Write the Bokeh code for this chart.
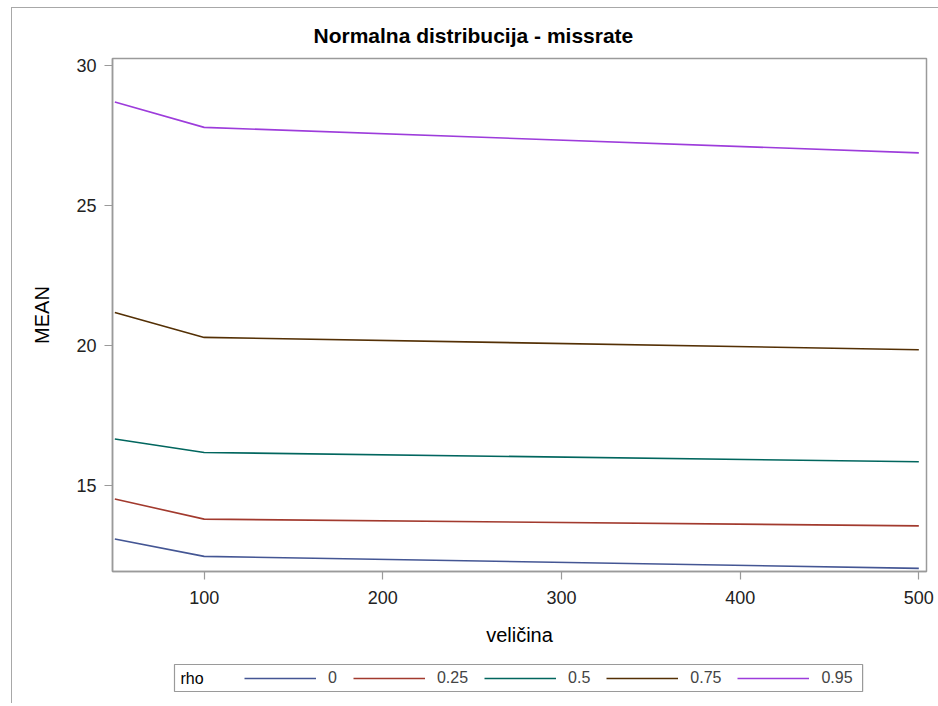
from bokeh.plotting import figure
from bokeh.layouts import column
from bokeh.models import Range1d, Legend, LegendItem, Title, FixedTicker, Label
from bokeh.embed import file_html
from bokeh.resources import INLINE

# ---- data ----
sizes = [50, 100, 500]
rho_labels = ["0", "0.25", "0.5", "0.75", "0.95"]
mean_rho_0 = [13.10, 12.48, 12.05]
mean_rho_025 = [14.53, 13.81, 13.57]
mean_rho_05 = [16.67, 16.19, 15.86]
mean_rho_075 = [21.19, 20.30, 19.86]
mean_rho_095 = [28.71, 27.80, 26.89]
x_ticks = [100, 200, 300, 400, 500]
y_ticks = [15, 20, 25, 30]

series = [mean_rho_0, mean_rho_025, mean_rho_05, mean_rho_075, mean_rho_095]
colors = ["#445694", "#A23A2E", "#01665E", "#543005", "#9D3CDB"]

FONT = "Liberation Sans"
GRAY = "#9a9a9a"

# ---- main chart ----
p = figure(width=926, height=647, output_backend="svg", toolbar_location=None,
           x_range=Range1d(48.7, 504.3), y_range=Range1d(11.94, 30.26),
           min_border_left=100, min_border_right=12, min_border_top=50,
           min_border_bottom=84)
p.title = None
p.add_layout(Title(text="Normalna distribucija - missrate", align="left",
                   text_font=FONT, text_font_size="21px", text_font_style="bold",
                   text_color="#000000", standoff=24, offset=201), "above")

p.outline_line_color = GRAY
p.outline_line_width = 1.5
p.grid.visible = False
p.background_fill_color = "white"
p.border_fill_color = "white"

for ax in (p.xaxis[0], p.yaxis[0]):
    ax.axis_line_color = GRAY
    ax.axis_line_width = 1.5
    ax.major_tick_line_color = GRAY
    ax.major_tick_line_width = 1.2
    ax.major_tick_out = 8
    ax.major_tick_in = 0
    ax.minor_tick_line_color = None
    ax.major_label_text_font = FONT
    ax.major_label_text_font_size = "18px"
    ax.major_label_text_color = "#222222"
    ax.axis_label_text_font = FONT
    ax.axis_label_text_font_size = "20px"
    ax.axis_label_text_font_style = "normal"
    ax.axis_label_text_color = "#000000"

p.xaxis.ticker = FixedTicker(ticks=x_ticks)
p.yaxis.ticker = FixedTicker(ticks=y_ticks)
p.xaxis.axis_label = "veličina"
p.yaxis.axis_label = "MEAN"
p.xaxis.major_label_standoff = 11
p.yaxis.major_label_standoff = 8
p.xaxis.axis_label_standoff = 17
p.yaxis.axis_label_standoff = 20

for vals, col in zip(series, colors):
    p.line(sizes, vals, line_color=col, line_width=1.6)

# ---- legend strip (its frame is aligned with the chart frame by the column) ----
p2 = figure(width=926, height=48, output_backend="svg", toolbar_location=None,
            x_range=Range1d(0, 814), y_range=Range1d(0, 48),
            min_border_left=100, min_border_right=12,
            min_border_top=0, min_border_bottom=0)
p2.extra_y_ranges = {"off": Range1d(200, 300)}
p2.axis.visible = False
p2.grid.visible = False
p2.outline_line_color = None
p2.border_fill_color = "white"

items = []
for vals, col, lab in zip(series, colors, rho_labels):
    r = p2.line(sizes, vals, line_color=col, line_width=1.6, y_range_name="off")
    items.append(LegendItem(label=lab, renderers=[r]))

rho_box = Label(x=62, y=25.5, text="rho", text_font=FONT, text_font_size="16px",
                text_baseline="middle", text_align="left", text_color="#000000",
                border_line_color=GRAY, border_line_width=1.2,
                padding={"left": 6, "right": 659, "top": 5, "bottom": 5})
p2.add_layout(rho_box)

legend = Legend(items=items, orientation="horizontal", location=(132, 15),
                label_text_font=FONT, label_text_font_size="16px",
                label_width=0, glyph_width=72, glyph_height=20,
                label_standoff=12, spacing=16,
                padding=0, margin=0, border_line_color=None,
                background_fill_alpha=0.0)
p2.add_layout(legend)

layout = column(p, p2, spacing=0,
                styles={"border-left": "1px solid #a8a8a8",
                        "border-top": "1px solid #a8a8a8",
                        "margin-left": "11px", "margin-top": "7px"})

open("out.html", "w").write(file_html(layout, INLINE))
